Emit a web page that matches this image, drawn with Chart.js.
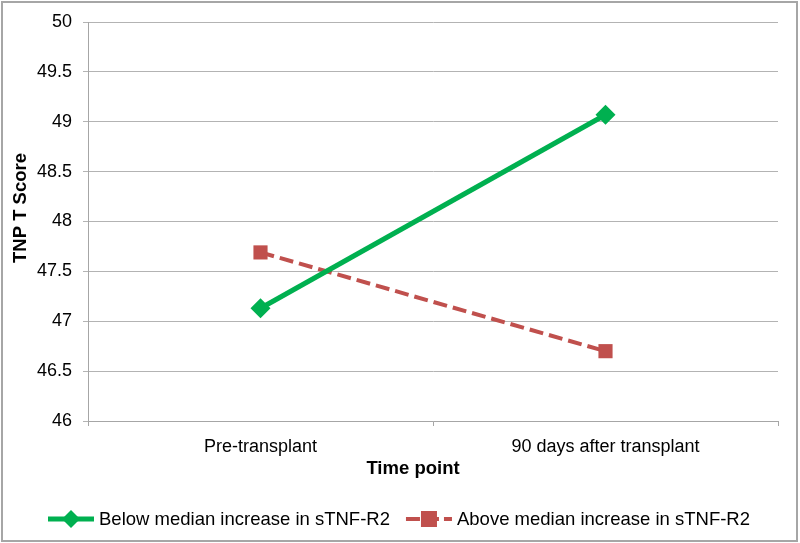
<!DOCTYPE html>
<html>
<head>
<meta charset="utf-8">
<script src="https://cdn.jsdelivr.net/npm/chart.js@4.4.0/dist/chart.umd.min.js"></script>
<style>
  html, body { margin: 0; padding: 0; background: #fff; }
  #wrap { width: 800px; height: 543px; position: relative; }
</style>
</head>
<body>
<div id="wrap"><canvas id="c" width="800" height="543"></canvas></div>
<script>
const categories = ['Pre-transplant', '90 days after transplant'];
const belowMedian = [47.13, 49.07];
const aboveMedian = [47.69, 46.70];
const seriesNames = ['Below median increase in sTNF-R2', 'Above median increase in sTNF-R2'];
const yTitle = 'TNP T Score';
const xTitle = 'Time point';

const GREEN = '#00b050';
const RED = '#c0504d';
const FONT = "'Liberation Sans', Arial, sans-serif";

const frame = {
  id: 'frame',
  beforeDraw(chart) {
    const ctx = chart.ctx;
    ctx.save();
    ctx.fillStyle = '#fff';
    ctx.fillRect(0, 0, chart.width, chart.height);
    ctx.strokeStyle = '#a6a6a6';
    ctx.lineWidth = 2;
    ctx.strokeRect(2, 2, chart.width - 5, chart.height - 4);
    ctx.restore();
  }
};

function diamond(ctx, x, y, r) {
  ctx.beginPath();
  ctx.moveTo(x, y - r); ctx.lineTo(x + r, y); ctx.lineTo(x, y + r); ctx.lineTo(x - r, y);
  ctx.closePath(); ctx.fill();
}

const titlesPlugin = {
  id: 'titles',
  afterDraw(chart) {
    const ctx = chart.ctx;
    ctx.save();
    ctx.fillStyle = '#000';
    ctx.font = 'bold 18.5px ' + FONT;
    ctx.textAlign = 'center';
    ctx.textBaseline = 'middle';
    ctx.fillText(xTitle, 413, 469);
    ctx.translate(21, 208);
    ctx.rotate(-Math.PI / 2);
    ctx.fillText(yTitle, 0, 0);
    ctx.restore();
  }
};

const legendPlugin = {
  id: 'customLegend',
  afterDraw(chart) {
    const ctx = chart.ctx;
    ctx.save();
    ctx.font = '18.5px ' + FONT;
    ctx.textBaseline = 'middle';
    ctx.fillStyle = '#000';
    const y = 519;
    const lineW = 46, gapT = 5, gapItem = 16;
    const w0 = ctx.measureText(seriesNames[0]).width;
    let x = 48;
    // item 1
    ctx.strokeStyle = GREEN; ctx.lineWidth = 5;
    ctx.beginPath(); ctx.moveTo(x, y); ctx.lineTo(x + lineW, y); ctx.stroke();
    ctx.fillStyle = GREEN; diamond(ctx, x + lineW / 2, y, 9);
    ctx.fillStyle = '#000';
    ctx.fillText(seriesNames[0], x + lineW + gapT, y + 1);
    x += lineW + gapT + w0 + gapItem;
    // item 2
    ctx.strokeStyle = RED; ctx.lineWidth = 4;
    ctx.setLineDash([14, 5]);
    ctx.beginPath(); ctx.moveTo(x, y); ctx.lineTo(x + lineW, y); ctx.stroke();
    ctx.setLineDash([]);
    ctx.fillStyle = RED; ctx.fillRect(x + lineW / 2 - 8, y - 8, 16, 16);
    ctx.fillStyle = '#000';
    ctx.fillText(seriesNames[1], x + lineW + gapT, y + 1);
    ctx.restore();
  }
};

new Chart(document.getElementById('c'), {
  type: 'line',
  data: {
    labels: categories,
    datasets: [
      {
        label: seriesNames[0], data: belowMedian,
        borderColor: GREEN, backgroundColor: GREEN, borderWidth: 5,
        pointStyle: 'rectRot', pointRadius: 10, pointHoverRadius: 10,
        pointBorderWidth: 0, tension: 0
      },
      {
        label: seriesNames[1], data: aboveMedian,
        borderColor: RED, backgroundColor: RED, borderWidth: 4, borderDash: [14, 6],
        pointStyle: 'rect', pointRadius: 10, pointHoverRadius: 10,
        pointBorderWidth: 0, tension: 0
      }
    ]
  },
  options: {
    responsive: false,
    animation: false,
    devicePixelRatio: 1,
    layout: { padding: { top: 22, right: 22, bottom: 64, left: 12 } },
    plugins: { legend: { display: false }, tooltip: { enabled: false } },
    scales: {
      x: {
        offset: true,
        grid: { offset: true, drawOnChartArea: false, drawTicks: true, tickLength: 5, color: '#a6a6a6' },
        border: { color: '#a6a6a6', width: 1 },
        ticks: { color: '#000', font: { family: FONT, size: 18 }, padding: 10, maxRotation: 0 },
        title: { display: false },
        afterFit(s) { s.height = 58; }
      },
      y: {
        min: 46, max: 50,
        ticks: { stepSize: 0.5, color: '#000', font: { family: FONT, size: 18 }, padding: 11,
                 callback: (v) => String(v) },
        grid: { color: '#b3b3b3', tickLength: 5, lineWidth: 1 },
        border: { color: '#a6a6a6', width: 1 },
        title: { display: false },
        afterFit(s) { s.width = 76; }
      }
    }
  },
  plugins: [frame, titlesPlugin, legendPlugin]
});
</script>
</body>
</html>
